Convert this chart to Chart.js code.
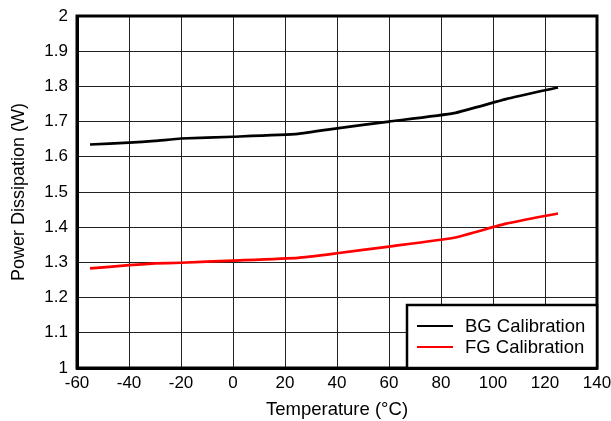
<!DOCTYPE html>
<html>
<head>
<meta charset="utf-8">
<script src="https://cdn.jsdelivr.net/npm/chart.js@4/dist/chart.umd.min.js"></script>
<style>
html,body{margin:0;padding:0;background:#fff;}
#wrap{position:relative;width:611px;height:421px;}
</style>
</head>
<body>
<div id="wrap"><canvas id="c" width="611" height="421"></canvas></div>
<script>
const temps = [-55, -40, -30, -20, 0, 25, 40, 60, 85, 105, 125];
const bgCalibration = [1.635, 1.640, 1.645, 1.652, 1.657, 1.665, 1.681, 1.700, 1.724, 1.764, 1.797];
const fgCalibration = [1.283, 1.292, 1.297, 1.299, 1.305, 1.313, 1.326, 1.345, 1.370, 1.410, 1.439];
const seriesNames = ['BG Calibration', 'FG Calibration'];
const seriesColors = ['#000000', '#ff0000'];
const xTitle = 'Temperature (°C)';
const yTitle = 'Power Dissipation (W)';

const FONT = '"Liberation Sans", Arial, Helvetica, sans-serif';

const toPts = arr => temps.map((t, i) => ({x: t, y: arr[i]}));

const framePlugin = {
  id: 'frame',
  afterDatasetsDraw(chart) {
    const {ctx, chartArea: a} = chart;
    ctx.save();
    ctx.strokeStyle = '#000';
    ctx.lineWidth = 3;
    ctx.strokeRect(a.left, a.top, a.right - a.left, a.bottom - a.top);
    // legend box in lower right
    const bw = 190, bh = 63;
    const bx = a.right - bw, by = a.bottom - bh;
    ctx.fillStyle = '#fff';
    ctx.fillRect(bx, by, bw, bh);
    ctx.lineWidth = 2.5;
    ctx.strokeRect(bx, by, bw, bh);
    ctx.font = '18.5px ' + FONT;
    ctx.textBaseline = 'middle';
    ctx.textAlign = 'left';
    seriesNames.forEach((n, i) => {
      const yy = by + 21 + i * 21;
      ctx.strokeStyle = seriesColors[i];
      ctx.lineWidth = 2;
      ctx.beginPath();
      ctx.moveTo(bx + 10, yy);
      ctx.lineTo(bx + 46, yy);
      ctx.stroke();
      ctx.fillStyle = '#000';
      ctx.fillText(n, bx + 58, yy + 1);
    });
    ctx.restore();
  }
};

new Chart(document.getElementById('c'), {
  type: 'line',
  data: {
    datasets: [
      {label: seriesNames[0], data: toPts(bgCalibration), borderColor: seriesColors[0], backgroundColor: seriesColors[0], borderWidth: 2.7, pointRadius: 0, tension: 0.15, fill: false},
      {label: seriesNames[1], data: toPts(fgCalibration), borderColor: seriesColors[1], backgroundColor: seriesColors[1], borderWidth: 2.7, pointRadius: 0, tension: 0.15, fill: false}
    ]
  },
  options: {
    responsive: false,
    animation: false,
    devicePixelRatio: 1,
    layout: {padding: {left: 0, right: 14, top: 16, bottom: 0}},
    plugins: {legend: {display: false}, tooltip: {enabled: false}},
    scales: {
      x: {
        type: 'linear', min: -60, max: 140,
        ticks: {stepSize: 20, color: '#000', font: {family: FONT, size: 17}, padding: 5, maxRotation: 0},
        grid: {color: '#222', lineWidth: 1, drawTicks: false},
        border: {color: '#000', width: 3},
        title: {display: true, text: xTitle, color: '#000', font: {family: FONT, size: 18.5}, padding: {top: 1, bottom: 0}},
        afterFit(s) { s.height = 53; s.paddingRight = 0; s.paddingLeft = 0; }
      },
      y: {
        type: 'linear', min: 1, max: 2,
        ticks: {stepSize: 0.1, color: '#000', font: {family: FONT, size: 17}, padding: 9,
          callback: v => Math.round(v * 10) / 10 + ''},
        grid: {color: '#222', lineWidth: 1, drawTicks: false},
        border: {color: '#000', width: 3},
        title: {display: true, text: yTitle, color: '#000', font: {family: FONT, size: 18}, padding: {top: 8, bottom: 0}},
        afterFit(s) { s.width = 77; s.paddingTop = 0; s.paddingBottom = 0; }
      }
    }
  },
  plugins: [framePlugin]
});
</script>
</body>
</html>
